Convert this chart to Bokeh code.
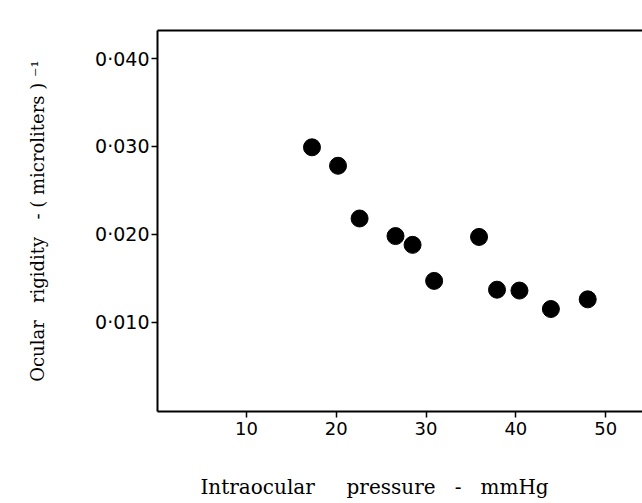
from bokeh.plotting import figure
from bokeh.models import FixedTicker, LinearAxis, Range1d
from bokeh.embed import file_html
from bokeh.resources import INLINE

# Data
pressure = [17.3, 20.2, 22.6, 26.6, 28.5, 30.9, 35.9, 37.9, 40.4, 43.9, 48.0]
rigidity = [0.0299, 0.0278, 0.0218, 0.0198, 0.0188, 0.0147, 0.0197, 0.0137, 0.0136, 0.0115, 0.0126]

x_ticks = [10, 20, 30, 40, 50]
y_ticks = [0.010, 0.020, 0.030, 0.040]
y_tick_labels = ["0·010", "0·020", "0·030", "0·040"]

NB = "\u00a0"
x_title = "Intraocular" + NB * 5 + "pressure" + NB * 3 + "-" + NB * 3 + "mmHg" + NB * 8
y_title = "Ocular" + NB * 3 + "rigidity" + NB * 3 + "-" + NB + "(" + NB + "microliters" + NB + ")" + NB + "⁻¹"

p = figure(width=642, height=503, output_backend="svg", toolbar_location=None,
           x_range=Range1d(0.1, 54.1), y_range=Range1d(-0.00016, 0.04319),
           min_border_left=157, min_border_right=0, min_border_top=30, min_border_bottom=92,
           x_axis_location=None, y_axis_location=None)
p.outline_line_color = None
p.grid.visible = False
p.background_fill_color = "white"
p.border_fill_color = "white"

tick_font = "DejaVu Sans"
title_font = "DejaVu Serif"

xaxis = LinearAxis(ticker=FixedTicker(ticks=x_ticks), axis_label=x_title)
xaxis.axis_line_width = 2
xaxis.axis_line_color = "black"
xaxis.major_tick_line_width = 1.5
xaxis.major_tick_out = 6
xaxis.major_tick_in = 0
xaxis.minor_tick_line_color = None
xaxis.major_label_text_font = tick_font
xaxis.major_label_text_font_size = "18px"
xaxis.major_label_text_color = "black"
xaxis.major_label_standoff = 4
xaxis.axis_label_text_font = title_font
xaxis.axis_label_text_font_style = "normal"
xaxis.axis_label_text_font_size = "20px"
xaxis.axis_label_text_color = "black"
xaxis.axis_label_standoff = 37
p.add_layout(xaxis, "below")

yaxis = LinearAxis(ticker=FixedTicker(ticks=y_ticks), axis_label=y_title)
yaxis.major_label_overrides = {t: s for t, s in zip(y_ticks, y_tick_labels)}
yaxis.axis_line_width = 2
yaxis.axis_line_color = "black"
yaxis.major_tick_line_width = 1.5
yaxis.major_tick_out = 6
yaxis.major_tick_in = 0
yaxis.minor_tick_line_color = None
yaxis.major_label_text_font = tick_font
yaxis.major_label_text_font_size = "19px"
yaxis.major_label_text_color = "black"
yaxis.major_label_standoff = 2
yaxis.axis_label_text_font = title_font
yaxis.axis_label_text_font_style = "normal"
yaxis.axis_label_text_font_size = "18px"
yaxis.axis_label_text_color = "black"
yaxis.axis_label_standoff = 44
p.add_layout(yaxis, "left")

top = LinearAxis(ticker=FixedTicker(ticks=[]))
top.axis_line_width = 2
top.axis_line_color = "black"
top.major_tick_line_color = None
top.minor_tick_line_color = None
top.major_label_text_font_size = "0px"
p.add_layout(top, "above")

p.scatter(pressure, rigidity, size=17, color="black")

open("out.html", "w").write(file_html(p, INLINE))
